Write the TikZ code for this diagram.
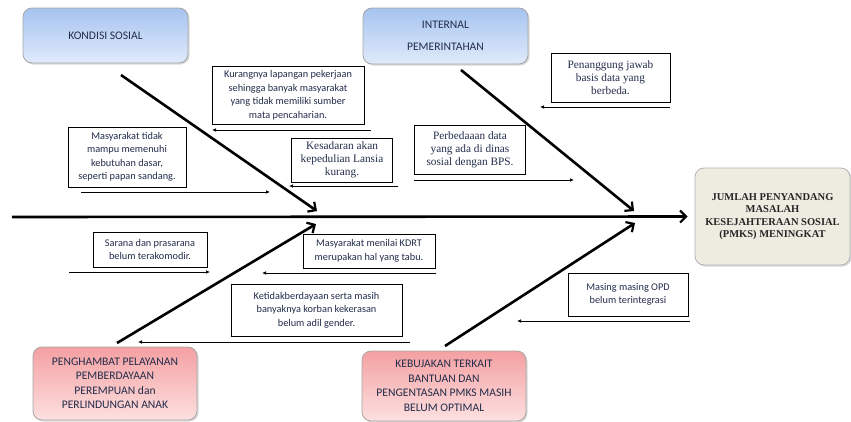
\documentclass[tikz,border=0pt]{standalone}
\usepackage{fontspec}
\setmainfont{Carlito}
\newfontfamily\timesfont{Liberation Serif}
\usetikzlibrary{arrows.meta,shadows}
\definecolor{teks}{RGB}{35,45,75}
\definecolor{birutua}{RGB}{166,196,240}
\definecolor{birumuda}{RGB}{224,234,251}
\definecolor{merahtua}{RGB}{244,160,162}
\definecolor{merahmuda}{RGB}{253,224,224}
\definecolor{krem}{RGB}{238,236,225}

\begin{document}
\begin{tikzpicture}[x=1pt,y=-1pt,
  kategori/.style={draw=gray!70, rounded corners=9pt, line width=0.8pt, text=teks, align=center,
    font=\fontsize{11.6}{14.5}\selectfont, drop shadow={opacity=0.3,shadow xshift=1.5pt,shadow yshift=-1.5pt}},
  biru/.style={kategori, top color=birutua, bottom color=birumuda},
  merah/.style={kategori, top color=merahtua, bottom color=merahmuda},
  sebab/.style={draw, line width=0.7pt, fill=white, inner sep=0pt, align=center, text=teks,
    font=\fontsize{10.3}{13.5}\selectfont},
  sebabserif/.style={sebab, font=\timesfont\fontsize{11.3}{13}\selectfont},
  tulang/.style={line width=2.6pt, -{Straight Barb[length=6pt,width=12pt,line width=2.2pt]}},
  panah/.style={line width=0.7pt, -{Latex[length=4pt,width=3.5pt]}}]
\useasboundingbox (0,0) rectangle (851,421);

% kepala ikan
\node[kategori, draw=gray!60, fill=krem, minimum width=155pt, minimum height=97pt,
  font=\timesfont\bfseries\fontsize{10.5}{12.5}\selectfont, text=black!85] (hasil) at (772.5,216.5)
  {JUMLAH PENYANDANG\\MASALAH\\KESEJAHTERAAN SOSIAL\\(PMKS) MENINGKAT};

% kategori
\node[biru, minimum width=165pt, minimum height=55pt] (ks) at (105.5,35.5) {KONDISI SOSIAL};
\node[biru, minimum width=165pt, minimum height=56pt] (ip) at (445.5,36) {INTERNAL\\[7.5pt]PEMERINTAHAN};
\node[merah, minimum width=164pt, minimum height=73pt] (ph) at (115,383.5)
  {PENGHAMBAT PELAYANAN\\PEMBERDAYAAN\\PEREMPUAN dan\\PERLINDUNGAN ANAK};
\node[merah, minimum width=164pt, minimum height=70pt] (kb) at (444,386)
  {KEBUJAKAN TERKAIT\\BANTUAN DAN\\PENGENTASAN PMKS MASIH\\BELUM OPTIMAL};

% sebab
\node[sebab, minimum width=152pt, minimum height=58pt] (s1) at (288,95)
  {Kurangnya lapangan pekerjaan\\sehingga banyak masyarakat\\yang tidak memiliki sumber\\mata pencaharian.};
\node[sebab, minimum width=118pt, minimum height=60pt] (s2) at (127,157)
  {Masyarakat tidak\\mampu memenuhi\\kebutuhan dasar,\\seperti papan sandang.};
\node[sebabserif, minimum width=101pt, minimum height=44pt] (s3) at (342,160)
  {Kesadaran akan\\kepedulian Lansia\\kurang.};
\node[sebabserif, minimum width=111pt, minimum height=49pt] (s4) at (470,150)
  {Perbedaaan data\\yang ada di dinas\\sosial dengan BPS.};
\node[sebabserif, minimum width=119pt, minimum height=49pt] (s5) at (610.5,77.5)
  {Penanggung jawab\\basis data yang\\berbeda.};
\node[sebab, minimum width=114pt, minimum height=35pt] (s6) at (150,249.5)
  {Sarana dan prasarana\\belum terakomodir.};
\node[sebab, minimum width=132pt, minimum height=34pt] (s7) at (369,251)
  {Masyarakat menilai KDRT\\merupakan hal yang tabu.};
\node[sebab, minimum width=171pt, minimum height=52pt] (s8) at (316.5,310)
  {Ketidakberdayaan serta masih\\banyaknya korban kekerasan\\belum adil gender.};
\node[sebab, minimum width=120pt, minimum height=43pt] (s9) at (628,294.5)
  {Masing masing OPD\\belum terintegrasi};

% tulang
\coordinate (ekor) at (12,217);
\draw[tulang] (ekor) -- ([xshift=-7pt]hasil.west);
\path (121,75) coordinate (ks1) (317,211) coordinate (ks2)
      (461,70) coordinate (ip1) (634,211) coordinate (ip2)
      (117,343) coordinate (ph1) (316,224) coordinate (ph2)
      (445,346) coordinate (kb1) (635,223) coordinate (kb2);
\foreach \t in {ks,ip,ph,kb}
  \draw[tulang] (\t1) -- (\t2);

% panah sebab
\path (371,130) coordinate (p1a) (212,130) coordinate (p1b)
      (81,192)  coordinate (p2a) (270,192) coordinate (p2b)
      (398,186) coordinate (p3a) (289,186) coordinate (p3b)
      (414,180) coordinate (p4a) (574,180) coordinate (p4b)
      (670,107) coordinate (p5a) (540,107) coordinate (p5b)
      (69,272)  coordinate (p6a) (210,272) coordinate (p6b)
      (436,273) coordinate (p7a) (262,273) coordinate (p7b)
      (410,342) coordinate (p8a) (138,342) coordinate (p8b)
      (690,321) coordinate (p9a) (517,321) coordinate (p9b);
\foreach \i in {1,...,9}
  \draw[panah] (p\i a) -- (p\i b);
\end{tikzpicture}
\end{document}
